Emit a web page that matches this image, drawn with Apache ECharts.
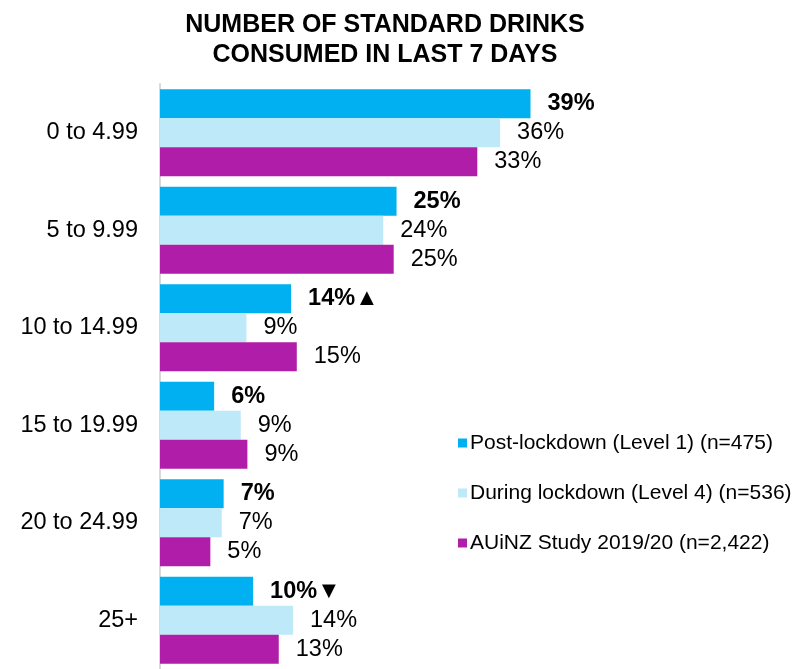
<!DOCTYPE html>
<html><head><meta charset="utf-8">
<script src="https://cdn.jsdelivr.net/npm/echarts@6/dist/echarts.min.js"></script>
<style>html,body{margin:0;padding:0;background:#fff}#c{width:798px;height:669px}</style>
</head><body><div id="c"></div>
<script>
const categories = ['0 to 4.99', '5 to 9.99', '10 to 14.99', '15 to 19.99', '20 to 24.99', '25+'];
const seriesNames = ['Post-lockdown (Level 1) (n=475)', 'During lockdown (Level 4) (n=536)', 'AUiNZ Study 2019/20 (n=2,422)'];
const postLockdown = [39.0, 24.9, 13.8, 5.7, 6.7, 9.8];
const duringLockdown = [35.8, 23.5, 9.1, 8.5, 6.5, 14.0];
const auinz = [33.4, 24.6, 14.4, 9.2, 5.3, 12.5];
const displayPost = ['39%', '25%', '14%▲', '6%', '7%', '10%▼'];
const displayDuring = ['36%', '24%', '9%', '9%', '7%', '14%'];
const displayAuinz = ['33%', '25%', '15%', '9%', '5%', '13%'];
const colors = ['#00b0f0', '#bde9f8', '#b01ea9'];

const chart = echarts.init(document.getElementById('c'));
const font = 'Liberation Sans, Arial, sans-serif';
function mk(i, data, disp, bold) {
  return {
    name: seriesNames[i], type: 'bar', data: data,
    barGap: '0%', barCategoryGap: '11%',
    itemStyle: { color: colors[i] },
    label: {
      show: true, position: 'right', distance: 17,
      color: '#000', fontSize: 23.5, fontFamily: font,
      fontWeight: bold ? 'bold' : 'normal',
      formatter: p => disp[p.dataIndex]
    }
  };
}
chart.setOption({
  animation: false,
  title: {
    text: 'NUMBER OF STANDARD DRINKS\nCONSUMED IN LAST 7 DAYS',
    left: 380, textAlign: 'center', top: 5,
    textStyle: { fontFamily: font, fontWeight: 'bold', fontSize: 25, color: '#000', lineHeight: 30 }
  },
  legend: {
    orient: 'vertical', left: 453, top: 427, itemGap: 28,
    itemWidth: 9, itemHeight: 9, icon: 'rect',
    textStyle: { fontFamily: font, fontSize: 21, lineHeight: 22, color: '#000', padding: [0, 0, 0, -2] },
    data: seriesNames
  },
  grid: { left: 160, right: 163, top: 84, bottom: 0, containLabel: false },
  xAxis: { type: 'value', min: 0, max: 50, show: false },
  yAxis: {
    type: 'category', data: categories, inverse: true,
    axisLine: { show: true, lineStyle: { color: '#d9d9d9', width: 2 } },
    axisTick: { show: false },
    axisLabel: { fontFamily: font, fontSize: 23.5, color: '#000', margin: 22 }
  },
  series: [mk(0, postLockdown, displayPost, true), mk(1, duringLockdown, displayDuring, false), mk(2, auinz, displayAuinz, false)]
});
</script></body></html>
